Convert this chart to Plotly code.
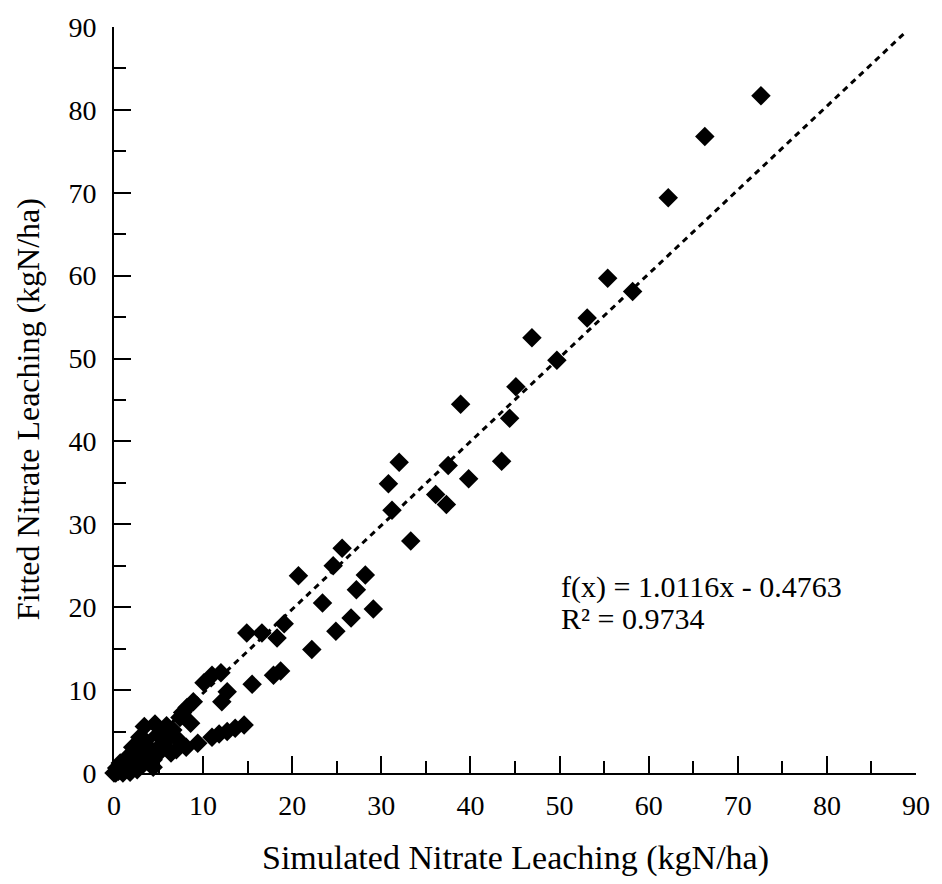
import plotly.graph_objects as go

# Simulated vs fitted nitrate leaching (kgN/ha)
simulated = [
    72.6, 66.3, 62.2, 55.4, 58.2, 53.1, 46.9, 49.7, 45.1, 38.9,
    44.4, 43.5, 37.5, 39.8, 36.1, 37.3, 32.0, 30.8, 31.2, 33.3,
    25.6, 24.6, 20.7, 28.2, 27.2, 23.4, 29.1, 26.6, 24.9, 22.2,
    19.1, 18.3, 14.9, 16.6, 15.5, 17.9, 18.7, 10.1, 11.0, 12.0,
    12.7, 12.1, 8.9, 8.2, 7.7, 14.6, 13.6, 12.7, 11.8, 11.0,
    9.4, 8.1, 7.0, 6.4, 8.6, 5.9, 6.6, 4.6, 3.4, 7.4,
    6.0, 4.9, 7.2, 2.9, 2.1, 4.0, 4.4, 1.5, 0.7, 0.0,
    2.6, 1.0, 3.2, 1.8, 4.4, 0.3, 2.1, 5.1, 3.2, 2.6,
    3.8, 5.5, 0.5, 1.3, 0.2, 3.5, 2.4,
]
fitted = [
    81.7, 76.8, 69.4, 59.7, 58.1, 54.9, 52.5, 49.8, 46.6, 44.5,
    42.8, 37.6, 37.1, 35.5, 33.6, 32.4, 37.5, 34.9, 31.7, 28.0,
    27.1, 25.0, 23.8, 23.9, 22.1, 20.5, 19.8, 18.7, 17.1, 14.9,
    18.0, 16.3, 16.9, 16.9, 10.7, 11.8, 12.3, 10.9, 11.8, 12.1,
    9.8, 8.6, 8.6, 7.9, 7.3, 5.8, 5.4, 5.0, 4.7, 4.3,
    3.6, 3.1, 2.8, 2.4, 6.0, 5.7, 5.2, 5.9, 5.6, 6.7,
    4.1, 4.6, 4.0, 4.3, 3.1, 3.0, 1.6, 1.9, 1.2, 0.0,
    0.4, 0.0, 1.0, 0.1, 0.7, 0.6, 2.2, 2.5, 3.4, 2.4,
    1.9, 3.6, 0.2, 0.8, 0.0, 3.9, 1.3,
]

# Linear trendline coefficients
slope = 1.0116
intercept = -0.4763
r_squared = 0.9734
trend_x = [0, 89]
trend_y = [slope * v + intercept for v in trend_x]

axis_ticks = [0, 10, 20, 30, 40, 50, 60, 70, 80, 90]

FONT = "Liberation Serif"

fig = go.Figure()
fig.add_trace(go.Scatter(
    x=trend_x, y=trend_y, mode="lines",
    line=dict(color="black", width=3, dash="6px,5px"),
    hoverinfo="skip", showlegend=False,
))
fig.add_trace(go.Scatter(
    x=simulated, y=fitted, mode="markers",
    marker=dict(symbol="diamond", size=15, color="black", line=dict(width=0)),
    cliponaxis=False, showlegend=False,
))

axis_style = dict(
    range=[0, 90], tickmode="array", tickvals=axis_ticks,
    ticktext=[str(t) for t in axis_ticks],
    showline=True, linecolor="black", linewidth=2,
    ticks="inside", ticklen=17, tickwidth=2, tickcolor="black",
    minor=dict(ticks="inside", ticklen=12, tickwidth=2, tickcolor="black", dtick=5),
    showgrid=False, zeroline=False,
)
fig.update_xaxes(**axis_style, ticklabelstandoff=6)
fig.update_yaxes(**axis_style, ticklabelstandoff=10)
fig.update_xaxes(tickfont=dict(family=FONT, size=28, color="black"))
fig.update_yaxes(tickfont=dict(family=FONT, size=28, color="black"))

fig.add_annotation(
    text="Simulated Nitrate Leaching (kgN/ha)", xref="paper", yref="paper",
    x=0.5, y=-0.1133, xanchor="center", yanchor="middle", showarrow=False,
    font=dict(family=FONT, size=34, color="black"),
)
fig.add_annotation(
    text="Fitted Nitrate Leaching (kgN/ha)", xref="paper", yref="paper",
    x=-0.107, y=0.488, xanchor="center", yanchor="middle", textangle=-90,
    showarrow=False, font=dict(family=FONT, size=32, color="black"),
)
fig.add_annotation(
    text=f"f(x) = {slope:.4f}x - {abs(intercept):.4f}", xref="x", yref="y",
    x=49.9, y=22.5, xanchor="left", yanchor="middle", showarrow=False,
    font=dict(family=FONT, size=30, color="black"),
)
fig.add_annotation(
    text=f"R² = {r_squared:.4f}", xref="x", yref="y",
    x=49.9, y=18.6, xanchor="left", yanchor="middle", showarrow=False,
    font=dict(family=FONT, size=30, color="black"),
)

fig.update_layout(
    width=942, height=884,
    margin=dict(l=114, r=23, t=23, b=111),
    paper_bgcolor="white", plot_bgcolor="white",
    font=dict(family=FONT, color="black"),
)

fig.write_html("out.html")
